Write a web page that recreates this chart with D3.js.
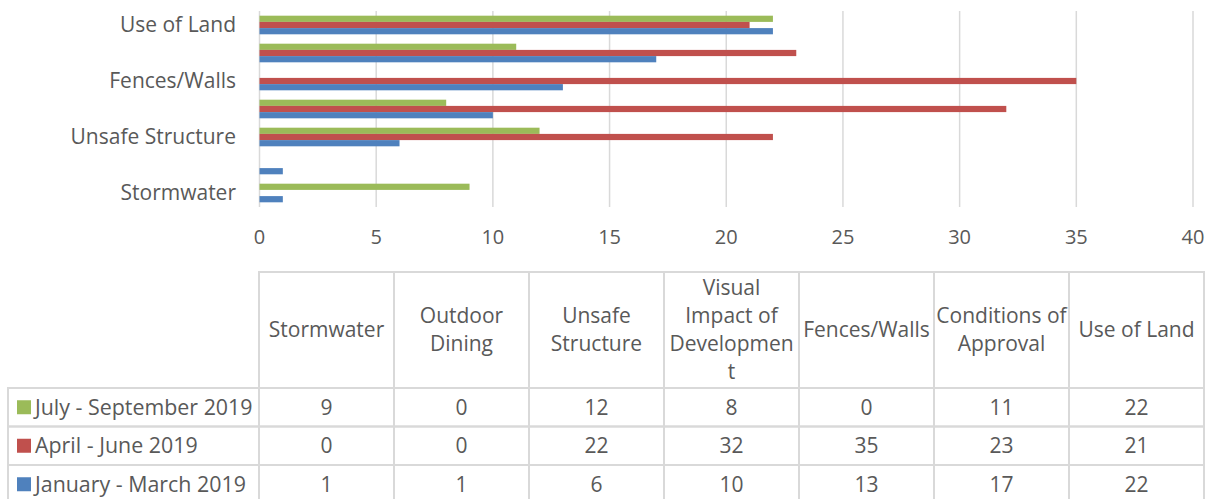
<!DOCTYPE html>
<html>
<head>
<meta charset="utf-8">
<script src="https://cdn.jsdelivr.net/npm/d3@7"></script>
<style>
  body { margin: 0; background: #fff; }
  text { font-family: "Open Sans", sans-serif; fill: #595959; }
</style>
</head>
<body>
<div id="container"></div>
<script>
/* DATA */
const categories = ["Stormwater", "Outdoor Dining", "Unsafe Structure",
  "Visual Impact of Development", "Fences/Walls", "Conditions of Approval", "Use of Land"];
// header text as wrapped in the table
const headerLines = [["Stormwater"], ["Outdoor", "Dining"], ["Unsafe", "Structure"],
  ["Visual", "Impact of", "Developmen", "t"], ["Fences/Walls"], ["Conditions of", "Approval"], ["Use of Land"]];
const axisLabels = ["Use of Land", "Fences/Walls", "Unsafe Structure", "Stormwater"];
const seriesNames = ["July - September 2019", "April - June 2019", "January - March 2019"];
const julSep = [9, 0, 12, 8, 0, 11, 22];
const aprJun = [0, 0, 22, 32, 35, 23, 21];
const janMar = [1, 1, 6, 10, 13, 17, 22];
const xTicks = [0, 5, 10, 15, 20, 25, 30, 35, 40];

/* CONSTANTS */
const width = 1210, height = 499;
const colors = ["#9BBB59", "#C0504D", "#4F81BD"];
const series = [julSep, aprJun, janMar];

const svg = d3.select("#container")
  .append("svg")
  .attr("width", width)
  .attr("height", height)

/* SCALES */
const xScale = d3.scaleLinear()
  .domain([0, 40])
  .range([259.5, 1193])
const yScale = d3.scaleBand()
  .domain(categories.slice().reverse())
  .range([11, 207])
  .paddingInner(0.335)
  .paddingOuter(0.1675)
const subScale = d3.scaleBand()
  .domain(d3.range(series.length))
  .range([0, yScale.bandwidth()])

/* GRID */
svg.selectAll(".grid")
  .data(xTicks)
  .join("line")
  .attr("class", "grid")
  .attr("x1", d => xScale(d))
  .attr("x2", d => xScale(d))
  .attr("y1", 11)
  .attr("y2", 207)
  .attr("stroke", "#d9d9d9")
  .attr("stroke-width", 1.5)

/* BARS */
series.forEach((vals, si) => {
  svg.selectAll(".bar-" + si)
    .data(categories.map((c, i) => ({ c, v: vals[i] })))
    .join("rect")
    .attr("class", "bar-" + si)
    .attr("x", xScale(0))
    .attr("y", d => yScale(d.c) + subScale(si))
    .attr("width", d => xScale(d.v) - xScale(0))
    .attr("height", subScale.bandwidth())
    .attr("fill", colors[si])
})

/* AXES */
svg.selectAll(".xlab")
  .data(xTicks)
  .join("text")
  .attr("class", "xlab")
  .attr("x", d => xScale(d))
  .attr("y", 244)
  .attr("text-anchor", "middle")
  .style("font-size", "20px")
  .text(d => d)

svg.selectAll(".ylab")
  .data(axisLabels)
  .join("text")
  .attr("class", "ylab")
  .attr("x", 236)
  .attr("y", d => yScale(d) + yScale.bandwidth() / 2 + 7)
  .attr("text-anchor", "end")
  .style("font-size", "21px")
  .text(d => d)

/* DATA TABLE */
const colScale = d3.scaleBand()
  .domain(categories)
  .range([259, 1204])
const rowTop = 388, rowH = 38.5, headTop = 272;
const gridColor = "#d9d9d9";
const tbl = svg.append("g")

// header cells
tbl.selectAll(".hcell")
  .data(categories)
  .join("rect")
  .attr("class", "hcell")
  .attr("x", d => colScale(d))
  .attr("y", headTop)
  .attr("width", colScale.bandwidth())
  .attr("height", rowTop - headTop)
  .attr("fill", "none")
  .attr("stroke", gridColor)
  .attr("stroke-width", 2)

tbl.selectAll(".htext")
  .data(categories)
  .join("text")
  .attr("class", "htext")
  .attr("text-anchor", "middle")
  .style("font-size", "21px")
  .each(function(d, i) {
    const lines = headerLines[i];
    const lh = 28;
    const cy = (headTop + rowTop) / 2;
    const y0 = cy - (lines.length - 1) * lh / 2 + 7;
    d3.select(this).selectAll("tspan")
      .data(lines)
      .join("tspan")
      .attr("x", colScale(d) + colScale.bandwidth() / 2)
      .attr("y", (l, j) => y0 + j * lh)
      .text(l => l)
  })

// data rows
series.forEach((vals, si) => {
  const y = rowTop + si * rowH;
  tbl.append("rect")
    .attr("x", 8)
    .attr("y", y)
    .attr("width", 259 - 8)
    .attr("height", rowH)
    .attr("fill", "none")
    .attr("stroke", gridColor)
    .attr("stroke-width", 2)
  tbl.append("rect")
    .attr("x", 17)
    .attr("y", y + rowH / 2 - 7)
    .attr("width", 14)
    .attr("height", 14)
    .attr("fill", colors[si])
  tbl.append("text")
    .attr("x", 35)
    .attr("y", y + rowH / 2 + 7.5)
    .style("font-size", "21.4px")
    .text(seriesNames[si])
  tbl.selectAll(".cell-" + si)
    .data(categories.map((c, i) => ({ c, v: vals[i] })))
    .join("rect")
    .attr("class", "cell-" + si)
    .attr("x", d => colScale(d.c))
    .attr("y", y)
    .attr("width", colScale.bandwidth())
    .attr("height", rowH)
    .attr("fill", "none")
    .attr("stroke", gridColor)
    .attr("stroke-width", 2)
  tbl.selectAll(".val-" + si)
    .data(categories.map((c, i) => ({ c, v: vals[i] })))
    .join("text")
    .attr("class", "val-" + si)
    .attr("x", d => colScale(d.c) + colScale.bandwidth() / 2)
    .attr("y", y + rowH / 2 + 7.5)
    .attr("text-anchor", "middle")
    .style("font-size", "21px")
    .text(d => d.v)
})
</script>
</body>
</html>
